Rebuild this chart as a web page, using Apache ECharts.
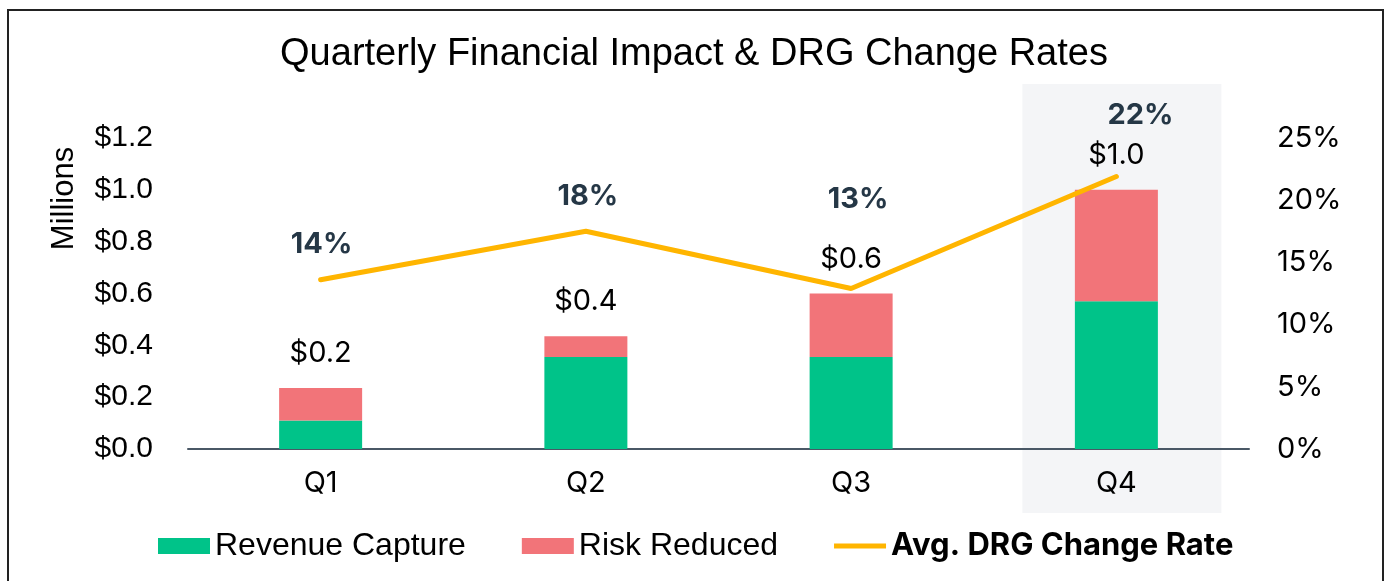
<!DOCTYPE html>
<html>
<head>
<meta charset="utf-8">
<script src="https://cdn.jsdelivr.net/npm/echarts@6/dist/echarts.min.js"></script>
<style>
  html, body { margin: 0; padding: 0; background: #fff; }
  #chart { width: 1388px; height: 581px; }
</style>
</head>
<body>
<div id="chart"></div>
<script>
const quarters = ["Q1", "Q2", "Q3", "Q4"];
const revenueCapture = [0.11, 0.355, 0.355, 0.57];
const riskReduced = [0.125, 0.08, 0.245, 0.43];
const drgChangeRate = [13.6, 17.5, 12.9, 21.9];
const highlightQuarter = "Q4";

const chartDom = document.getElementById("chart");
const myChart = echarts.init(chartDom);

const plexFont = "Inter";
const arialFont = "Liberation Sans";

// label offsets for the rate labels (placed to avoid the bar labels)
const rateLabelOffsets = [[1, 0], [2, 0], [7, -54], [24, -26]];

const option = {
  animation: false,
  graphic: [
    {
      type: "rect",
      shape: { x: 8, y: 10, width: 1375, height: 620 },
      style: { fill: "none", stroke: "#222", lineWidth: 2 },
      z: 100,
    },
  ],
  title: {
    text: "Quarterly Financial Impact & DRG Change Rates",
    left: "center",
    top: 31,
    textStyle: { fontFamily: arialFont, fontSize: 38, fontWeight: "normal", color: "#000" },
  },
  grid: { left: 188, right: 139, top: 138, bottom: 132 },
  legend: {
    bottom: 14,
    left: 153,
    itemWidth: 52,
    itemHeight: 16,
    itemGap: 56,
    textStyle: { fontFamily: arialFont, fontSize: 32, color: "#000", padding: [0, 0, 0, 0] },
    data: [
      { name: "Revenue Capture", icon: "rect" },
      { name: "Risk Reduced", icon: "rect" },
      {
        name: "Avg. DRG Change Rate",
        icon: "path://M0 0H100V10H0Z",
        textStyle: { fontFamily: plexFont, fontWeight: "bold", fontSize: 31 },
      },
    ],
  },
  xAxis: {
    type: "category",
    data: quarters,
    axisLine: { lineStyle: { color: "#4a5866", width: 2 } },
    axisTick: { show: false },
    axisLabel: { fontFamily: plexFont, fontSize: 29, color: "#000", margin: 20 },
  },
  yAxis: [
    {
      type: "value",
      min: 0,
      max: 1.2,
      interval: 0.2,
      name: "Millions",
      nameLocation: "middle",
      nameRotate: 90,
      nameGap: 108,
      nameTextStyle: { fontFamily: arialFont, fontSize: 31, color: "#000", padding: [0, 0, 0, 190] },
      splitLine: { show: false },
      axisLine: { show: false },
      axisLabel: {
        fontFamily: arialFont,
        fontSize: 30,
        color: "#000",
        margin: 35,
        formatter: (v) => "$" + v.toFixed(1),
      },
    },
    {
      type: "value",
      min: 0,
      max: 25,
      interval: 5,
      splitLine: { show: false },
      axisLine: { show: false },
      axisLabel: {
        fontFamily: plexFont,
        fontSize: 29,
        color: "#000",
        margin: 28,
        formatter: (v) => v + "%",
      },
    },
  ],
  series: [
    {
      type: "custom",
      silent: true,
      z: 0,
      clip: false,
      renderItem: function (params, api) {
        if (api.value(0) !== quarters.indexOf(highlightQuarter)) return;
        const c = api.coord([api.value(0), 0]);
        return {
          type: "rect",
          shape: { x: c[0] - 94, y: 84, width: 199, height: 429 },
          style: { fill: "#f4f5f7" },
        };
      },
      data: quarters.map((q, i) => [i]),
      legendHoverLink: false,
      tooltip: { show: false },
    },
    {
      name: "Revenue Capture",
      type: "bar",
      stack: "total",
      barWidth: 83,
      itemStyle: { color: "#00c389" },
      data: revenueCapture,
      z: 2,
    },
    {
      name: "Risk Reduced",
      type: "bar",
      stack: "total",
      barWidth: 83,
      itemStyle: { color: "#f27479" },
      data: riskReduced,
      z: 2,
      label: {
        show: true,
        position: "top",
        distance: 20,
        fontFamily: plexFont,
        fontSize: 29,
        color: "#000",
        formatter: (p) => "$" + (revenueCapture[p.dataIndex] + riskReduced[p.dataIndex]).toFixed(1),
      },
    },
    {
      name: "Avg. DRG Change Rate",
      type: "line",
      yAxisIndex: 1,
      symbol: "circle",
      symbolSize: 0,
      showSymbol: true,
      lineStyle: { color: "#ffb500", width: 5, cap: "round" },
      itemStyle: { color: "#ffb500" },
      z: 3,
      data: drgChangeRate.map((v, i) => ({
        value: v,
        label: {
          show: true,
          position: "top",
          distance: 21,
          offset: rateLabelOffsets[i],
          fontFamily: plexFont,
          fontSize: 29,
          fontWeight: "bold",
          color: "#253746",
          formatter: (p) => Math.round(p.value) + "%",
        },
      })),
    },
  ],
};

option && myChart.setOption(option);
</script>
</body>
</html>
